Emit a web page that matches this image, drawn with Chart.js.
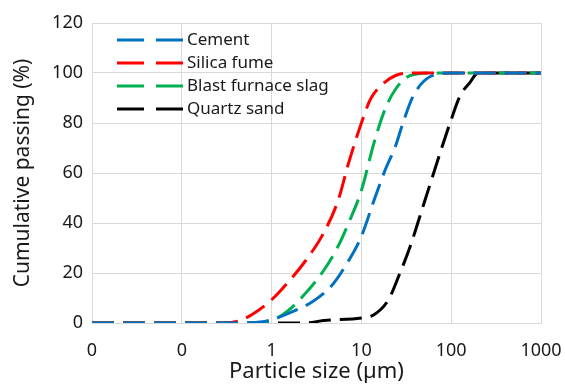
<!DOCTYPE html>
<html>
<head>
<meta charset="utf-8">
<script src="https://cdn.jsdelivr.net/npm/chart.js@4"></script>
<style>
  html, body { margin: 0; padding: 0; background: #fff; }
  #wrap { width: 565px; height: 385px; }
</style>
</head>
<body>
<div id="wrap"><canvas id="psd-chart"></canvas></div>
<script>
// Particle size distribution data
const seriesNames = ['Cement', 'Silica fume', 'Blast furnace slag', 'Quartz sand'];
const seriesColors = ['#0070C0', '#FF0000', '#00B050', '#000000'];

const cementSize = [0.01, 0.5, 0.8, 1, 1.58, 2.9, 4.6, 6.6, 10, 13.8, 18.3, 24, 29, 38, 60, 100, 1000];
const cementPassing = [0, 0, 0.5, 1.3, 4, 8.7, 14.7, 22.7, 34.7, 49, 61, 70.8, 80, 91, 98.8, 100, 100];

const silicaSize = [0.01, 0.3, 0.42, 0.6, 1, 1.5, 2.4, 3.8, 5.5, 7.2, 10, 12.6, 16.6, 24, 38, 1000];
const silicaPassing = [0, 0, 0.7, 3.3, 9.3, 16, 25, 36, 49, 64, 80, 89.5, 95, 99, 100, 100];

const slagSize = [0.01, 0.7, 1.05, 1.5, 2.4, 3.8, 5.5, 7.2, 10, 13.8, 18.3, 24, 35, 60, 1000];
const slagPassing = [0, 0, 1.3, 4.7, 12, 21, 30.7, 40, 53, 72, 85.4, 93.5, 99, 100, 100];

const quartzSize = [0.01, 1.5, 2.4, 3.8, 10, 13.8, 20, 26, 35, 46, 60, 80, 100, 126, 160, 200, 1000];
const quartzPassing = [0, 0, 0, 1, 2, 3.3, 9.3, 18.7, 30.7, 44, 57, 71, 81.4, 91, 96, 100, 100];

const xTicks = [0.01, 0.1, 1, 10, 100, 1000];

function toPoints(sizes, passing) {
  return sizes.map((s, i) => ({ x: s, y: passing[i] }));
}

const allSeries = [
  toPoints(cementSize, cementPassing),
  toPoints(silicaSize, silicaPassing),
  toPoints(slagSize, slagPassing),
  toPoints(quartzSize, quartzPassing)
];

const fontFamily = "'Noto Sans', 'Open Sans', sans-serif";
const textColor = '#1a1a1a';

// Legend drawn inside the plot area, top left
const insideLegend = {
  id: 'insideLegend',
  afterDraw(chart) {
    const ctx = chart.ctx;
    const area = chart.chartArea;
    const x0 = area.left + 25;
    const lineLen = 66;
    ctx.save();
    ctx.font = '17px ' + fontFamily;
    ctx.textBaseline = 'middle';
    chart.data.datasets.forEach((ds, i) => {
      const y = area.top + 17 + i * 23;
      ctx.strokeStyle = ds.borderColor;
      ctx.lineWidth = 3;
      ctx.setLineDash([27, 12]);
      ctx.beginPath();
      ctx.moveTo(x0, y);
      ctx.lineTo(x0 + lineLen, y);
      ctx.stroke();
      ctx.setLineDash([]);
      ctx.fillStyle = textColor;
      ctx.fillText(ds.label, x0 + lineLen + 4, y);
    });
    ctx.restore();
  }
};

const ctx = document.getElementById('psd-chart').getContext('2d');
const psdChart = new Chart(ctx, {
  type: 'line',
  data: {
    datasets: seriesNames.map((name, i) => ({
      label: name,
      data: allSeries[i],
      borderColor: seriesColors[i],
      backgroundColor: seriesColors[i],
      borderWidth: 3,
      borderDash: [22, 9],
      pointRadius: 0,
      fill: false,
      cubicInterpolationMode: 'monotone'
    }))
  },
  options: {
    responsive: true,
    maintainAspectRatio: false,
    animation: false,
    layout: {
      padding: { top: 23, right: 24, bottom: 0, left: 0 }
    },
    scales: {
      x: {
        type: 'logarithmic',
        min: 0.01,
        max: 1000,
        afterBuildTicks: function(scale) {
          scale.ticks = xTicks.map(v => ({ value: v, major: true }));
        },
        afterFit: function(scale) {
          scale.height = 62;
          scale.paddingLeft = 0;
          scale.paddingRight = 0;
        },
        grid: { color: '#d9d9d9', lineWidth: 1, drawTicks: false },
        border: { color: '#d9d9d9' },
        ticks: {
          color: textColor,
          font: { family: fontFamily, size: 18 },
          padding: 17,
          maxRotation: 0,
          autoSkip: false,
          callback: function(value) {
            return value < 1 ? '0' : String(value);
          }
        },
        title: {
          display: true,
          text: 'Particle size (µm)',
          color: textColor,
          font: { family: fontFamily, size: 22 },
          padding: { top: 0, bottom: 0 }
        }
      },
      y: {
        min: 0,
        max: 120,
        afterFit: function(scale) {
          scale.width = 92;
        },
        grid: { color: '#d9d9d9', lineWidth: 1, drawTicks: false },
        border: { color: '#d9d9d9' },
        ticks: {
          stepSize: 20,
          color: textColor,
          font: { family: fontFamily, size: 18 },
          padding: 9
        },
        title: {
          display: true,
          text: 'Cumulative passing (%)',
          color: textColor,
          font: { family: fontFamily, size: 21 },
          padding: { top: 10, bottom: 0 }
        }
      }
    },
    plugins: {
      legend: { display: false },
      tooltip: { enabled: false }
    }
  },
  plugins: [insideLegend]
});
</script>
</body>
</html>
